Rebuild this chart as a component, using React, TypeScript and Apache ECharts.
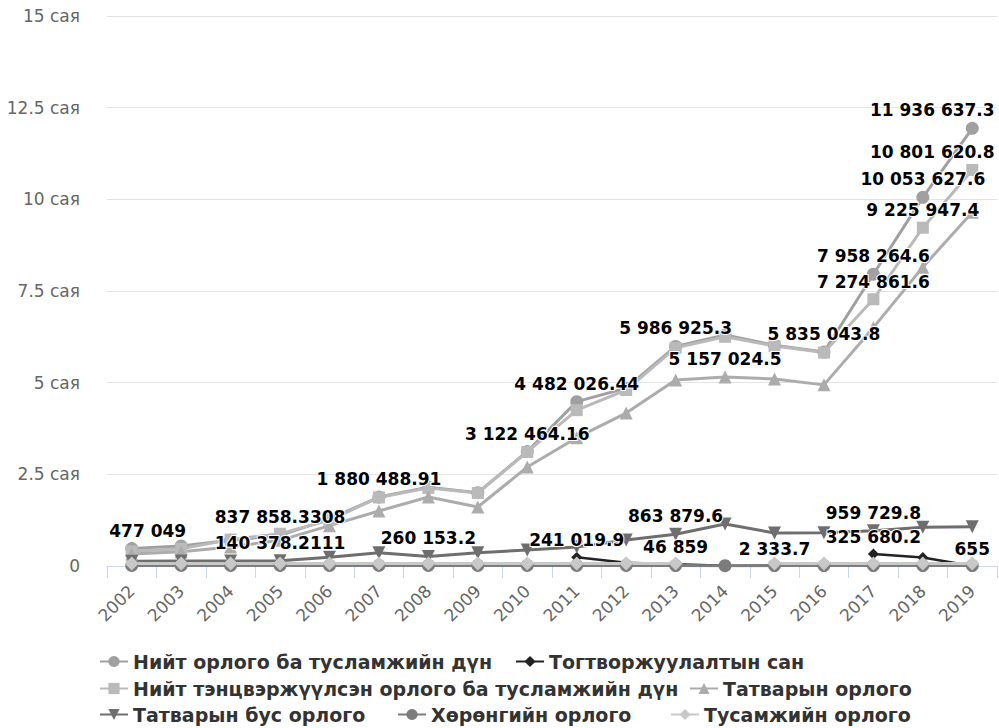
import React, { useEffect, useRef } from "react";
import * as echarts from "echarts";

const years = ["2002","2003","2004","2005","2006","2007","2008","2009","2010","2011","2012","2013","2014","2015","2016","2017","2018","2019"];

const seriesNames = [
  "Нийт орлого ба тусламжийн дүн",
  "Тогтворжуулалтын сан",
  "Нийт тэнцвэржүүлсэн орлого ба тусламжийн дүн",
  "Татварын орлого",
  "Татварын бус орлого",
  "Хөрөнгийн орлого",
  "Тусамжийн орлого",
];

const totalIncome = [477049, 545000, 700000, 837858.3308, 1280000, 1880488.91, 2150000, 2000000, 3122464.16, 4482026.44, 4850000, 5986925.3, 6300000, 6020000, 5835043.8, 7958264.6, 10053627.6, 11936637.3];
const stabFund = [null, null, null, null, null, null, null, null, null, 241019.9, 90000, 46859, 5000, 2333.7, null, 325680.2, 230000, 655];
const balancedIncome = [400000, 470000, 720000, 880000, 1250000, 1870000, 2130000, 1990000, 3110000, 4250000, 4800000, 5950000, 6250000, 6000000, 5820000, 7274861.6, 9225947.4, 10801620.8];
const taxIncome = [330000, 390000, 520000, 700000, 1100000, 1500000, 1880000, 1610000, 2700000, 3500000, 4170000, 5070000, 5157024.5, 5100000, 4940000, 6500000, 8150000, 9650000];
const nonTaxIncome = [130000, 135000, 138000, 140378.2111, 240000, 363000, 260153.2, 363000, 436000, 520000, 710000, 863879.6, 1145000, 900000, 910000, 959729.8, 1060000, 1070000];
const capitalIncome = [15000, 15000, 15000, 15000, 15000, 15000, 15000, 15000, 15000, 15000, 15000, 12000, 10000, 12000, 12000, 12000, 12000, 12000];
const aidIncome = [70000, 70000, 70000, 70000, 70000, 70000, 70000, 70000, 70000, 70000, 70000, 70000, null, 70000, 70000, 70000, 70000, 70000];

const yTicks = [0, 2500000, 5000000, 7500000, 10000000, 12500000, 15000000];

// indices of points whose value label is shown
const totalLabeled = [0, 3, 5, 8, 9, 11, 14, 15, 16, 17];
const stabLabeled = [9, 11, 13, 15, 17];
const balancedLabeled = [15, 16, 17];
const taxLabeled = [12];
const nonTaxLabeled = [3, 6, 11, 15];

function fmt(v: number): string {
  const s = String(v);
  const [i, d] = s.split(".");
  const ii = i.replace(/\B(?=(\d{3})+(?!\d))/g, " ");
  return d ? ii + "." + d : ii;
}

const labelStyle = {
  position: "top" as const,
  distance: 3,
  color: "#000",
  fontFamily: "DejaVu Sans",
  fontWeight: "bold" as const,
  fontSize: 17,
  textBorderColor: "#fff",
  textBorderWidth: 2,
  formatter: (p: any) => fmt(p.value),
};

function buildData(values: (number | null)[], labeled: number[]) {
  return values.map((v, i) => {
    if (v === null) return null;
    if (labeled.includes(i)) return { value: v, label: { show: true } };
    return v;
  });
}

export default function App() {
  const ref = useRef<HTMLDivElement>(null);
  useEffect(() => {
    if (!ref.current) return;
    const chart = echarts.init(ref.current, null, { renderer: "svg" });
    const colors = ["#a0a0a0", "#222222", "#bababa", "#acacac", "#6e6e6e", "#7c7c7c", "#c8c8c8"];
    const symbols = ["circle", "diamond", "rect", "triangle", "triangle", "circle", "diamond"];
    const rotates = [0, 0, 0, 0, 180, 0, 0];
    const sizes = [13, 11, 12, 13, 13, 13, 14];
    const datas = [
      buildData(totalIncome, totalLabeled),
      buildData(stabFund, stabLabeled),
      buildData(balancedIncome, balancedLabeled),
      buildData(taxIncome, taxLabeled),
      buildData(nonTaxIncome, nonTaxLabeled),
      buildData(capitalIncome, []),
      buildData(aidIncome, []),
    ];
    // keep labels inside the plot area (shift horizontally)
    const shifts: Record<number, Record<number, number>> = {
      0: { 0: 16, 17: -40 },
      2: { 17: -40 },
    };
    const legendPos = [
      [99, 652], [515, 652],
      [99, 679], [689, 679],
      [99, 705], [397, 705], [670, 705],
    ];
    const option: any = {
      animation: false,
      backgroundColor: "#fff",
      grid: { left: 107, right: 2, top: 16, bottom: 162, containLabel: false },
      legend: seriesNames.map((n, i) => ({
        data: [n],
        left: legendPos[i][0],
        top: legendPos[i][1],
        padding: 0,
        itemWidth: 28,
        itemHeight: 14,
        textStyle: { fontFamily: "DejaVu Sans", fontWeight: "bold", fontSize: 19, color: "#333" },
      })),
      xAxis: {
        type: "category",
        data: years,
        boundaryGap: true,
        axisLine: { lineStyle: { color: "#ccd6eb", width: 1 } },
        axisTick: { show: true, length: 12, lineStyle: { color: "#ccd6eb" } },
        axisLabel: { rotate: 45, margin: 22, color: "#666", fontFamily: "DejaVu Sans", fontSize: 17, interval: 0 },
      },
      yAxis: {
        type: "value",
        min: yTicks[0],
        max: yTicks[yTicks.length - 1],
        interval: yTicks[1] - yTicks[0],
        axisLine: { show: false },
        axisTick: { show: false },
        splitLine: { lineStyle: { color: "#e3e3e3", width: 1 } },
        axisLabel: {
          margin: 27,
          color: "#666",
          fontFamily: "DejaVu Sans",
          fontSize: 17,
          formatter: (v: number) => (v === 0 ? "0" : v / 1000000 + " сая"),
        },
      },
      series: seriesNames.map((n, i) => ({
        name: n,
        type: "line",
        data: datas[i],
        symbol: symbols[i],
        symbolRotate: rotates[i],
        symbolSize: sizes[i],
        showAllSymbol: true,
        connectNulls: false,
        itemStyle: { color: colors[i] },
        lineStyle: { color: colors[i], width: i === 1 ? 2.5 : 3 },
        label: { ...labelStyle, show: false },
        labelLayout: (params: any) => {
          const s = shifts[i];
          const dx = s && s[params.dataIndex] !== undefined ? s[params.dataIndex] : 0;
          return { dx, hideOverlap: false };
        },
        emphasis: { disabled: true },
      })),
    };
    chart.setOption(option);
    return () => chart.dispose();
  }, []);
  return <div ref={ref} style={{ position: "fixed", left: 0, top: 0, width: 999, height: 728 }} />;
}
